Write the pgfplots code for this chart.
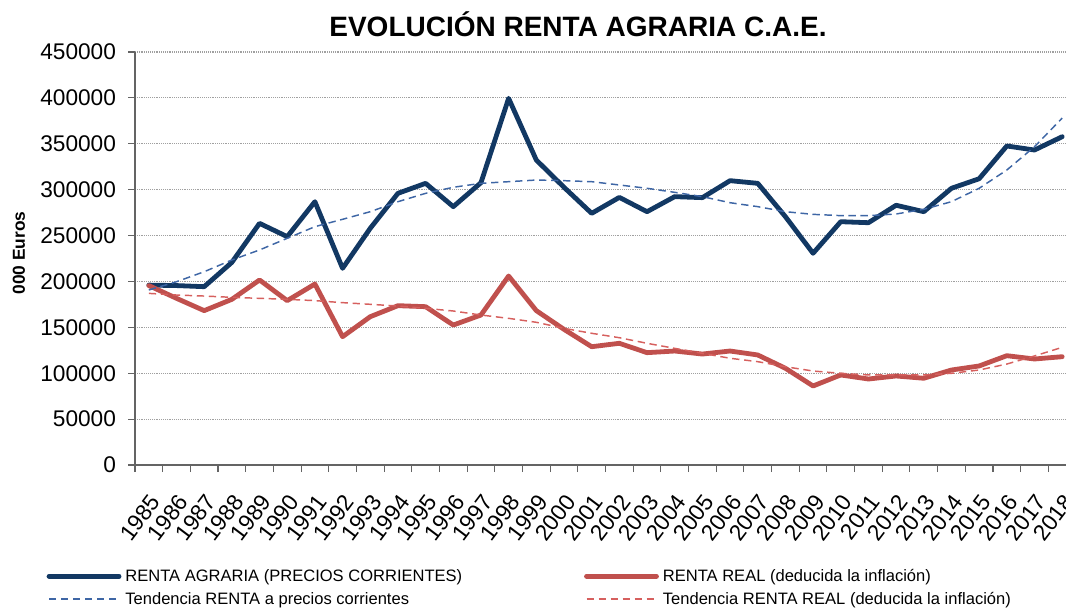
\documentclass[border=0pt]{standalone}
\usepackage{fontspec}
\setmainfont{Liberation Sans}
\usepackage{pgfplots}
\usepackage{pgfplotstable}
\pgfplotsset{compat=1.18}

\definecolor{azul}{RGB}{18,56,99}
\definecolor{rojo}{RGB}{192,80,77}
\definecolor{azultend}{RGB}{62,102,165}
\definecolor{rojotend}{RGB}{214,96,94}
\definecolor{ejegris}{RGB}{100,100,100}
\definecolor{rejilla}{RGB}{160,160,160}

% year, current prices, real, trend current, trend real (000 EUR)
\pgfplotstableread{
year corr real tcorr treal
1985 196000 195500 190700 187000
1986 195500 181600 199700 185200
1987 194300 168200 210600 184100
1988 220800 180500 223400 182700
1989 263300 201600 234300 181600
1990 248800 179100 247000 180500
1991 286900 197200 259700 179100
1992 214300 139800 267700 176900
1993 257900 161600 276000 175100
1994 296000 173600 286900 173200
1995 306900 172500 296000 170700
1996 281500 152500 302600 167800
1997 307600 163400 306900 163400
1998 399500 205900 308700 159800
1999 332300 168200 310500 155500
2000 302600 147800 309800 148900
2001 274200 128900 308700 143500
2002 291600 132600 305100 138700
2003 276000 122400 301500 132600
2004 292400 124200 297100 127100
2005 291300 120900 292400 121700
2006 309800 124200 285800 116300
2007 306900 119900 281500 112600
2008 270600 105400 276000 107100
2009 230700 86100 273100 102400
2010 265100 98100 271700 99900
2011 264000 93700 271700 98100
2012 283000 97000 273500 98100
2013 276000 94500 278600 98100
2014 301500 103500 286900 99900
2015 311900 107900 301500 103500
2016 347600 119100 321400 110000
2017 343200 115500 346800 118800
2018 357700 118000 378000 128200
}\datos

\begin{document}
\begin{tikzpicture}
\begin{axis}[
    at={(0pt,0pt)}, anchor=south west,
    scale only axis,
    width=705.75pt, height=309.75pt,
    xmin=1984.5, xmax=2018.5,
    ymin=0, ymax=450000,
    axis x line*=bottom, axis y line*=left,
    axis line style={draw=ejegris, line width=1.1pt},
    tick align=outside,
    major tick length=5.25pt,
    tick style={draw=ejegris, line width=0.8pt},
    xtick={1984.5,1985.5,...,2017.5},
    xticklabels={},
    extra x ticks={1985,1986,...,2018},
    extra x tick style={major tick length=0pt},
    ytick={0,50000,...,450000},
    scaled y ticks=false,
    ymajorgrids,
    grid style={rejilla, densely dotted, line width=0.8pt},
    /pgf/number format/.cd, fixed, precision=0, 1000 sep={}, assume math mode=true,
    /pgfplots/.cd,
    tick label style={font=\fontsize{17pt}{20pt}\selectfont},
    yticklabel style={xshift=-5.5pt},
    xticklabel style={xshift=7pt, yshift=-21.5pt, rotate=53, anchor=east},
    ylabel={000 Euros},
    ylabel style={font=\bfseries\fontsize{13pt}{15pt}\selectfont,
        at={(axis description cs:-0.1233,0.513)}, anchor=center},
    title={EVOLUCIÓN RENTA AGRARIA C.A.E.},
    title style={font=\bfseries\fontsize{21pt}{25pt}\selectfont,
        at={(axis description cs:0.4708,1)}, anchor=center, yshift=14.5pt},
    legend columns=2,
    legend cell align=left,
    legend style={draw=none, fill=none, inner sep=0pt, outer sep=0pt,
        at={(axis description cs:-0.0939,-0.2490)}, anchor=north west,
        font=\fontsize{12.4pt}{15pt}\selectfont,
        nodes={inner sep=1pt}, row sep=4.5pt},
    legend image code/.code={\draw[#1] (0pt,0pt) -- (52.5pt,0pt);},
]
\addplot[azul, line width=3.6pt, line join=round, line cap=round] table[x=year, y=corr] {\datos};
\addlegendentry{\makebox[345pt][l]{\hspace{2pt}RENTA AGRARIA (PRECIOS CORRIENTES)}}
\addplot[rojo, line width=3.6pt, line join=round, line cap=round] table[x=year, y=real] {\datos};
\addlegendentry{\hspace{2pt}RENTA REAL (deducida la inflación)}
\addplot[azultend, line width=1.1pt, dash pattern=on 5.5pt off 3.5pt] table[x=year, y=tcorr] {\datos};
\addlegendentry{\makebox[345pt][l]{\hspace{2pt}Tendencia RENTA a precios corrientes}}
\addplot[rojotend, line width=1.1pt, dash pattern=on 5.5pt off 3.5pt] table[x=year, y=treal] {\datos};
\addlegendentry{\hspace{2pt}Tendencia RENTA REAL (deducida la inflación)}
\end{axis}
\pgfresetboundingbox
\path[use as bounding box] (-101.25pt,-111.75pt) rectangle (698.25pt,348.75pt);
\end{tikzpicture}
\end{document}
